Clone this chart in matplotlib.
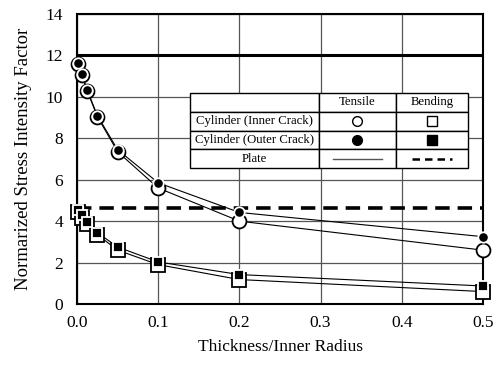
import matplotlib
matplotlib.use("Agg")
import matplotlib.pyplot as plt

plt.rcParams['font.family'] = ['Liberation Serif', 'DejaVu Serif']

# thickness / inner radius
x = [0.001, 0.006, 0.0125, 0.025, 0.05, 0.1, 0.2, 0.5]

# tensile
inner_tensile = [11.6, 11.05, 10.3, 9.05, 7.35, 5.6, 4.0, 2.6]
outer_tensile = [11.65, 11.08, 10.34, 9.1, 7.45, 5.85, 4.42, 3.25]
# bending
inner_bending = [4.45, 4.15, 3.85, 3.35, 2.6, 1.9, 1.18, 0.6]
outer_bending = [4.52, 4.3, 3.98, 3.45, 2.75, 2.03, 1.42, 0.87]

# plate solutions
plate_tensile = 12.0
plate_bending = 4.63

row_labels = ['Cylinder (Inner Crack)', 'Cylinder (Outer Crack)', 'Plate']
col_labels = ['Tensile', 'Bending']

fig = plt.figure(figsize=(4.93, 3.74), dpi=100)
ax = fig.add_axes([77 / 493, 70 / 374, 406 / 493, 290 / 374])

ax.axhline(plate_tensile, color='black', lw=2.2, zorder=3)
ax.axhline(plate_bending, color='black', lw=2.6, ls=(0, (4, 2.2)), zorder=3)

# lines first, markers on top
ax.plot(x, inner_tensile, color='black', lw=0.8, zorder=3)
ax.plot(x, outer_tensile, color='black', lw=0.8, zorder=3)
ax.plot(x, inner_bending, color='black', lw=0.8, zorder=3)
ax.plot(x, outer_bending, color='black', lw=0.8, zorder=3)

ax.plot(x, inner_tensile, 'o', ms=10, mfc='white', mec='black', mew=1.3, zorder=4, clip_on=False)
ax.plot(x, outer_tensile, 'o', ms=7.5, mfc='black', mec='white', mew=1.3, zorder=5, clip_on=False)
ax.plot(x, inner_bending, 's', ms=10, mfc='white', mec='black', mew=1.3, zorder=4, clip_on=False)
ax.plot(x, outer_bending, 's', ms=7.5, mfc='black', mec='white', mew=1.3, zorder=5, clip_on=False)

ax.set_xlim(0, 0.5)
ax.set_ylim(0, 14)
ax.set_xticks([0.0, 0.1, 0.2, 0.3, 0.4, 0.5])
ax.set_xticklabels(['0.0', '0.1', '0.2', '0.3', '0.4', '0.5'])
ax.set_yticks(range(0, 15, 2))
ax.tick_params(length=0, labelsize=12.5)
ax.tick_params(axis='y', pad=10)
ax.tick_params(axis='x', pad=8)
ax.grid(True, color='#555555', lw=0.9, zorder=1)
ax.set_axisbelow(True)
for s in ax.spines.values():
    s.set_linewidth(1.5)

ax.set_xlabel('Thickness/Inner Radius', fontsize=12.5, labelpad=6)
ax.set_ylabel('Normarized Stress Intensity Factor', fontsize=13.5, labelpad=10)

# legend table
tx0, tx1 = (190 - 77) / 406, (468 - 77) / 406
ty0, ty1 = (304 - 168) / 290, (304 - 93) / 290
cells = [[''] + col_labels] + [[r, '', ''] for r in row_labels]
tbl = ax.table(cellText=cells, bbox=[tx0, ty0, tx1 - tx0, ty1 - ty0],
               colWidths=[0.464, 0.277, 0.259], cellLoc='center', zorder=6)
tbl.auto_set_font_size(False)
for (r, c), cell in tbl.get_celld().items():
    cell.set_facecolor('white')
    cell.set_linewidth(1.0)
    cell.get_text().set_fontsize(9.2)
    if c == 0 and r in (1, 2):
        cell._loc = 'left'
        cell.PAD = 0.02

w = tx1 - tx0
h = (ty1 - ty0) / 4
cx_t = tx0 + w * (0.464 + 0.277 / 2)
cx_b = tx0 + w * (0.464 + 0.277 + 0.259 / 2)
row_y = [ty1 - h * (i + 1.5) for i in range(3)]
ax.plot(cx_t, row_y[0], 'o', ms=7, mfc='white', mec='black', mew=1, transform=ax.transAxes, zorder=7, clip_on=False)
ax.plot(cx_b, row_y[0], 's', ms=7, mfc='white', mec='black', mew=1, transform=ax.transAxes, zorder=7, clip_on=False)
ax.plot(cx_t, row_y[1], 'o', ms=7, mfc='black', mec='black', transform=ax.transAxes, zorder=7, clip_on=False)
ax.plot(cx_b, row_y[1], 's', ms=7, mfc='black', mec='black', transform=ax.transAxes, zorder=7, clip_on=False)
ax.plot([cx_t - 0.06, cx_t + 0.06], [row_y[2]] * 2, color='#555555', lw=1, transform=ax.transAxes, zorder=7)
ax.plot([cx_b - 0.05, cx_b + 0.05], [row_y[2]] * 2, color='black', lw=1.8, ls=(0, (3, 2)), transform=ax.transAxes, zorder=7)

fig.savefig('out.png', dpi=100)
